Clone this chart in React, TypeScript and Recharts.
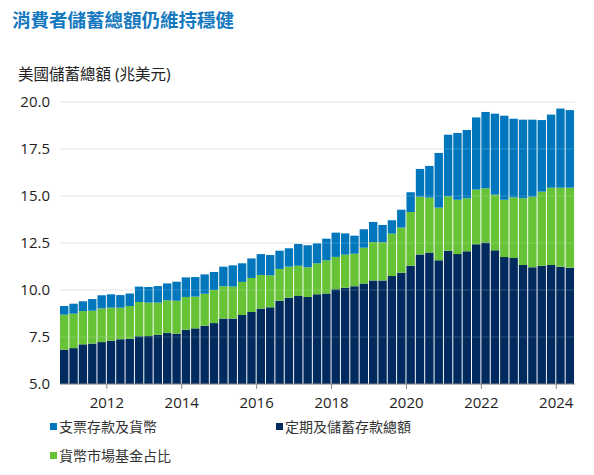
import { Bar, BarChart, CartesianGrid, ReferenceLine, XAxis, YAxis } from 'recharts';

// quarterly, 2010Q4 .. 2024Q2
const quarters = [
	'2010Q4',
	'2011Q1', '2011Q2', '2011Q3', '2011Q4',
	'2012Q1', '2012Q2', '2012Q3', '2012Q4',
	'2013Q1', '2013Q2', '2013Q3', '2013Q4',
	'2014Q1', '2014Q2', '2014Q3', '2014Q4',
	'2015Q1', '2015Q2', '2015Q3', '2015Q4',
	'2016Q1', '2016Q2', '2016Q3', '2016Q4',
	'2017Q1', '2017Q2', '2017Q3', '2017Q4',
	'2018Q1', '2018Q2', '2018Q3', '2018Q4',
	'2019Q1', '2019Q2', '2019Q3', '2019Q4',
	'2020Q1', '2020Q2', '2020Q3', '2020Q4',
	'2021Q1', '2021Q2', '2021Q3', '2021Q4',
	'2022Q1', '2022Q2', '2022Q3', '2022Q4',
	'2023Q1', '2023Q2', '2023Q3', '2023Q4',
	'2024Q1', '2024Q2',
];

// 定期及儲蓄存款總額 (兆美元)
const timeSavings = [
	6.83,
	6.91, 7.11, 7.15, 7.23,
	7.30, 7.38, 7.41, 7.54,
	7.55, 7.62, 7.71, 7.68,
	7.89, 7.96, 8.10, 8.24,
	8.48, 8.48, 8.67, 8.83,
	9.01, 9.08, 9.43, 9.59,
	9.68, 9.63, 9.77, 9.82,
	10.04, 10.12, 10.20, 10.34,
	10.51, 10.51, 10.74, 10.92,
	11.29, 11.89, 11.99, 11.58,
	12.09, 11.91, 12.06, 12.43,
	12.52, 12.11, 11.75, 11.70,
	11.33, 11.21, 11.28, 11.33,
	11.24, 11.19,
];

// 貨幣市場基金占比
const moneyMarket = [
	1.86,
	1.83, 1.77, 1.75, 1.79,
	1.76, 1.68, 1.74, 1.82,
	1.78, 1.71, 1.74, 1.75,
	1.74, 1.69, 1.70, 1.76,
	1.72, 1.70, 1.76, 1.81,
	1.79, 1.70, 1.69, 1.65,
	1.61, 1.58, 1.65, 1.76,
	1.72, 1.76, 1.73, 1.91,
	2.04, 2.03, 2.26, 2.40,
	2.86, 3.07, 2.92, 2.80,
	2.89, 2.89, 2.82, 2.91,
	2.89, 2.96, 3.05, 3.23,
	3.55, 3.75, 3.95, 4.11,
	4.20, 4.25,
];

// 支票存款及貨幣
const checkable = [
	0.46,
	0.53, 0.52, 0.62, 0.70,
	0.71, 0.67, 0.67, 0.82,
	0.83, 0.88, 0.90, 1.01,
	1.04, 1.04, 1.03, 0.96,
	1.04, 1.13, 0.99, 1.04,
	1.11, 1.08, 0.97, 0.98,
	1.16, 1.17, 1.06, 1.15,
	1.29, 1.13, 0.96, 0.98,
	1.07, 0.92, 0.71, 0.95,
	1.05, 1.48, 1.69, 2.91,
	3.28, 3.55, 3.63, 3.84,
	4.06, 4.31, 4.47, 4.18,
	4.18, 4.10, 3.81, 3.89,
	4.21, 4.13,
];

const yearTicks = [2012, 2014, 2016, 2018, 2020, 2022, 2024];
const valueTicks = [5, 7.5, 10, 12.5, 15, 17.5, 20];

const navy = '#012B5E';
const green = '#66C335';
const blue = '#0077BC';

const legendItems = [
	{ name: '支票存款及貨幣', color: blue, left: 50, top: 416 },
	{ name: '定期及儲蓄存款總額', color: navy, left: 276, top: 416 },
	{ name: '貨幣市場基金占比', color: green, left: 50, top: 445 },
];

// center of each quarter slot on a year axis
const data = quarters.map((q, i) => ({
	t: Number(q.slice(0, 4)) + (Number(q.slice(5)) - 1) / 4 + 0.125,
	time: timeSavings[i],
	mmf: moneyMarket[i],
	checkable: checkable[i],
}));

const tickFont = { fontSize: 15, fill: '#1e1e1e', fontFamily: '"Open Sans", "Noto Sans", sans-serif' };

export default function App() {
	return (
		<div style={{ position: 'absolute', left: 0, top: 0, width: 594, height: 475, background: '#fff' }}>
			<BarChart
				width={594}
				height={475}
				data={data}
				margin={{ top: 102, right: 19, bottom: 61, left: 0 }}
			>
				<CartesianGrid horizontal vertical={false} stroke="#e2e2e2" />
				<XAxis
					dataKey="t"
					type="number"
					domain={[2010.75, 2024.5]}
					ticks={yearTicks}
					allowDataOverflow
					axisLine={{ stroke: '#8a8a8a' }}
					tickLine={{ stroke: '#8a8a8a' }}
					tickSize={5}
					tickMargin={8}
					tick={tickFont}
				/>
				<YAxis
					type="number"
					domain={[5, 20]}
					ticks={valueTicks}
					allowDataOverflow
					width={60}
					axisLine={false}
					tickLine={false}
					tickMargin={4}
					tick={tickFont}
					tickFormatter={(v: number) => v.toFixed(1)}
				/>
				<Bar dataKey="time" stackId="s" fill={navy} barSize={8.4} isAnimationActive={false} />
				<Bar dataKey="mmf" stackId="s" fill={green} barSize={8.4} isAnimationActive={false} />
				<Bar dataKey="checkable" stackId="s" fill={blue} barSize={8.4} isAnimationActive={false} />
				{valueTicks.slice(1, -1).map((v) => (
					<ReferenceLine key={v} y={v} stroke="#ffffff" strokeOpacity={0.18} />
				))}
			</BarChart>

			<div
				style={{
					position: 'absolute',
					left: 12,
					top: 6,
					fontSize: 18.5,
					fontWeight: 700,
					color: '#1579BF',
					fontFamily: '"Noto Sans CJK TC", "Noto Sans", sans-serif',
					whiteSpace: 'nowrap',
				}}
			>
				消費者儲蓄總額仍維持穩健
			</div>
			<div
				style={{
					position: 'absolute',
					left: 18,
					top: 62,
					fontSize: 15.5,
					color: '#222',
					fontFamily: '"Open Sans", "Noto Sans CJK TC", sans-serif',
					whiteSpace: 'nowrap',
				}}
			>
				美國儲蓄總額 (兆美元)
			</div>

			{legendItems.map((item) => (
				<div
					key={item.name}
					style={{
						position: 'absolute',
						left: item.left,
						top: item.top,
						display: 'flex',
						alignItems: 'center',
						fontSize: 14,
						color: '#333',
						fontFamily: '"Noto Sans CJK TC", sans-serif',
						whiteSpace: 'nowrap',
					}}
				>
					<span style={{ display: 'inline-block', width: 7, height: 7, background: item.color, marginRight: 2 }} />
					{item.name}
				</div>
			))}
		</div>
	);
}
